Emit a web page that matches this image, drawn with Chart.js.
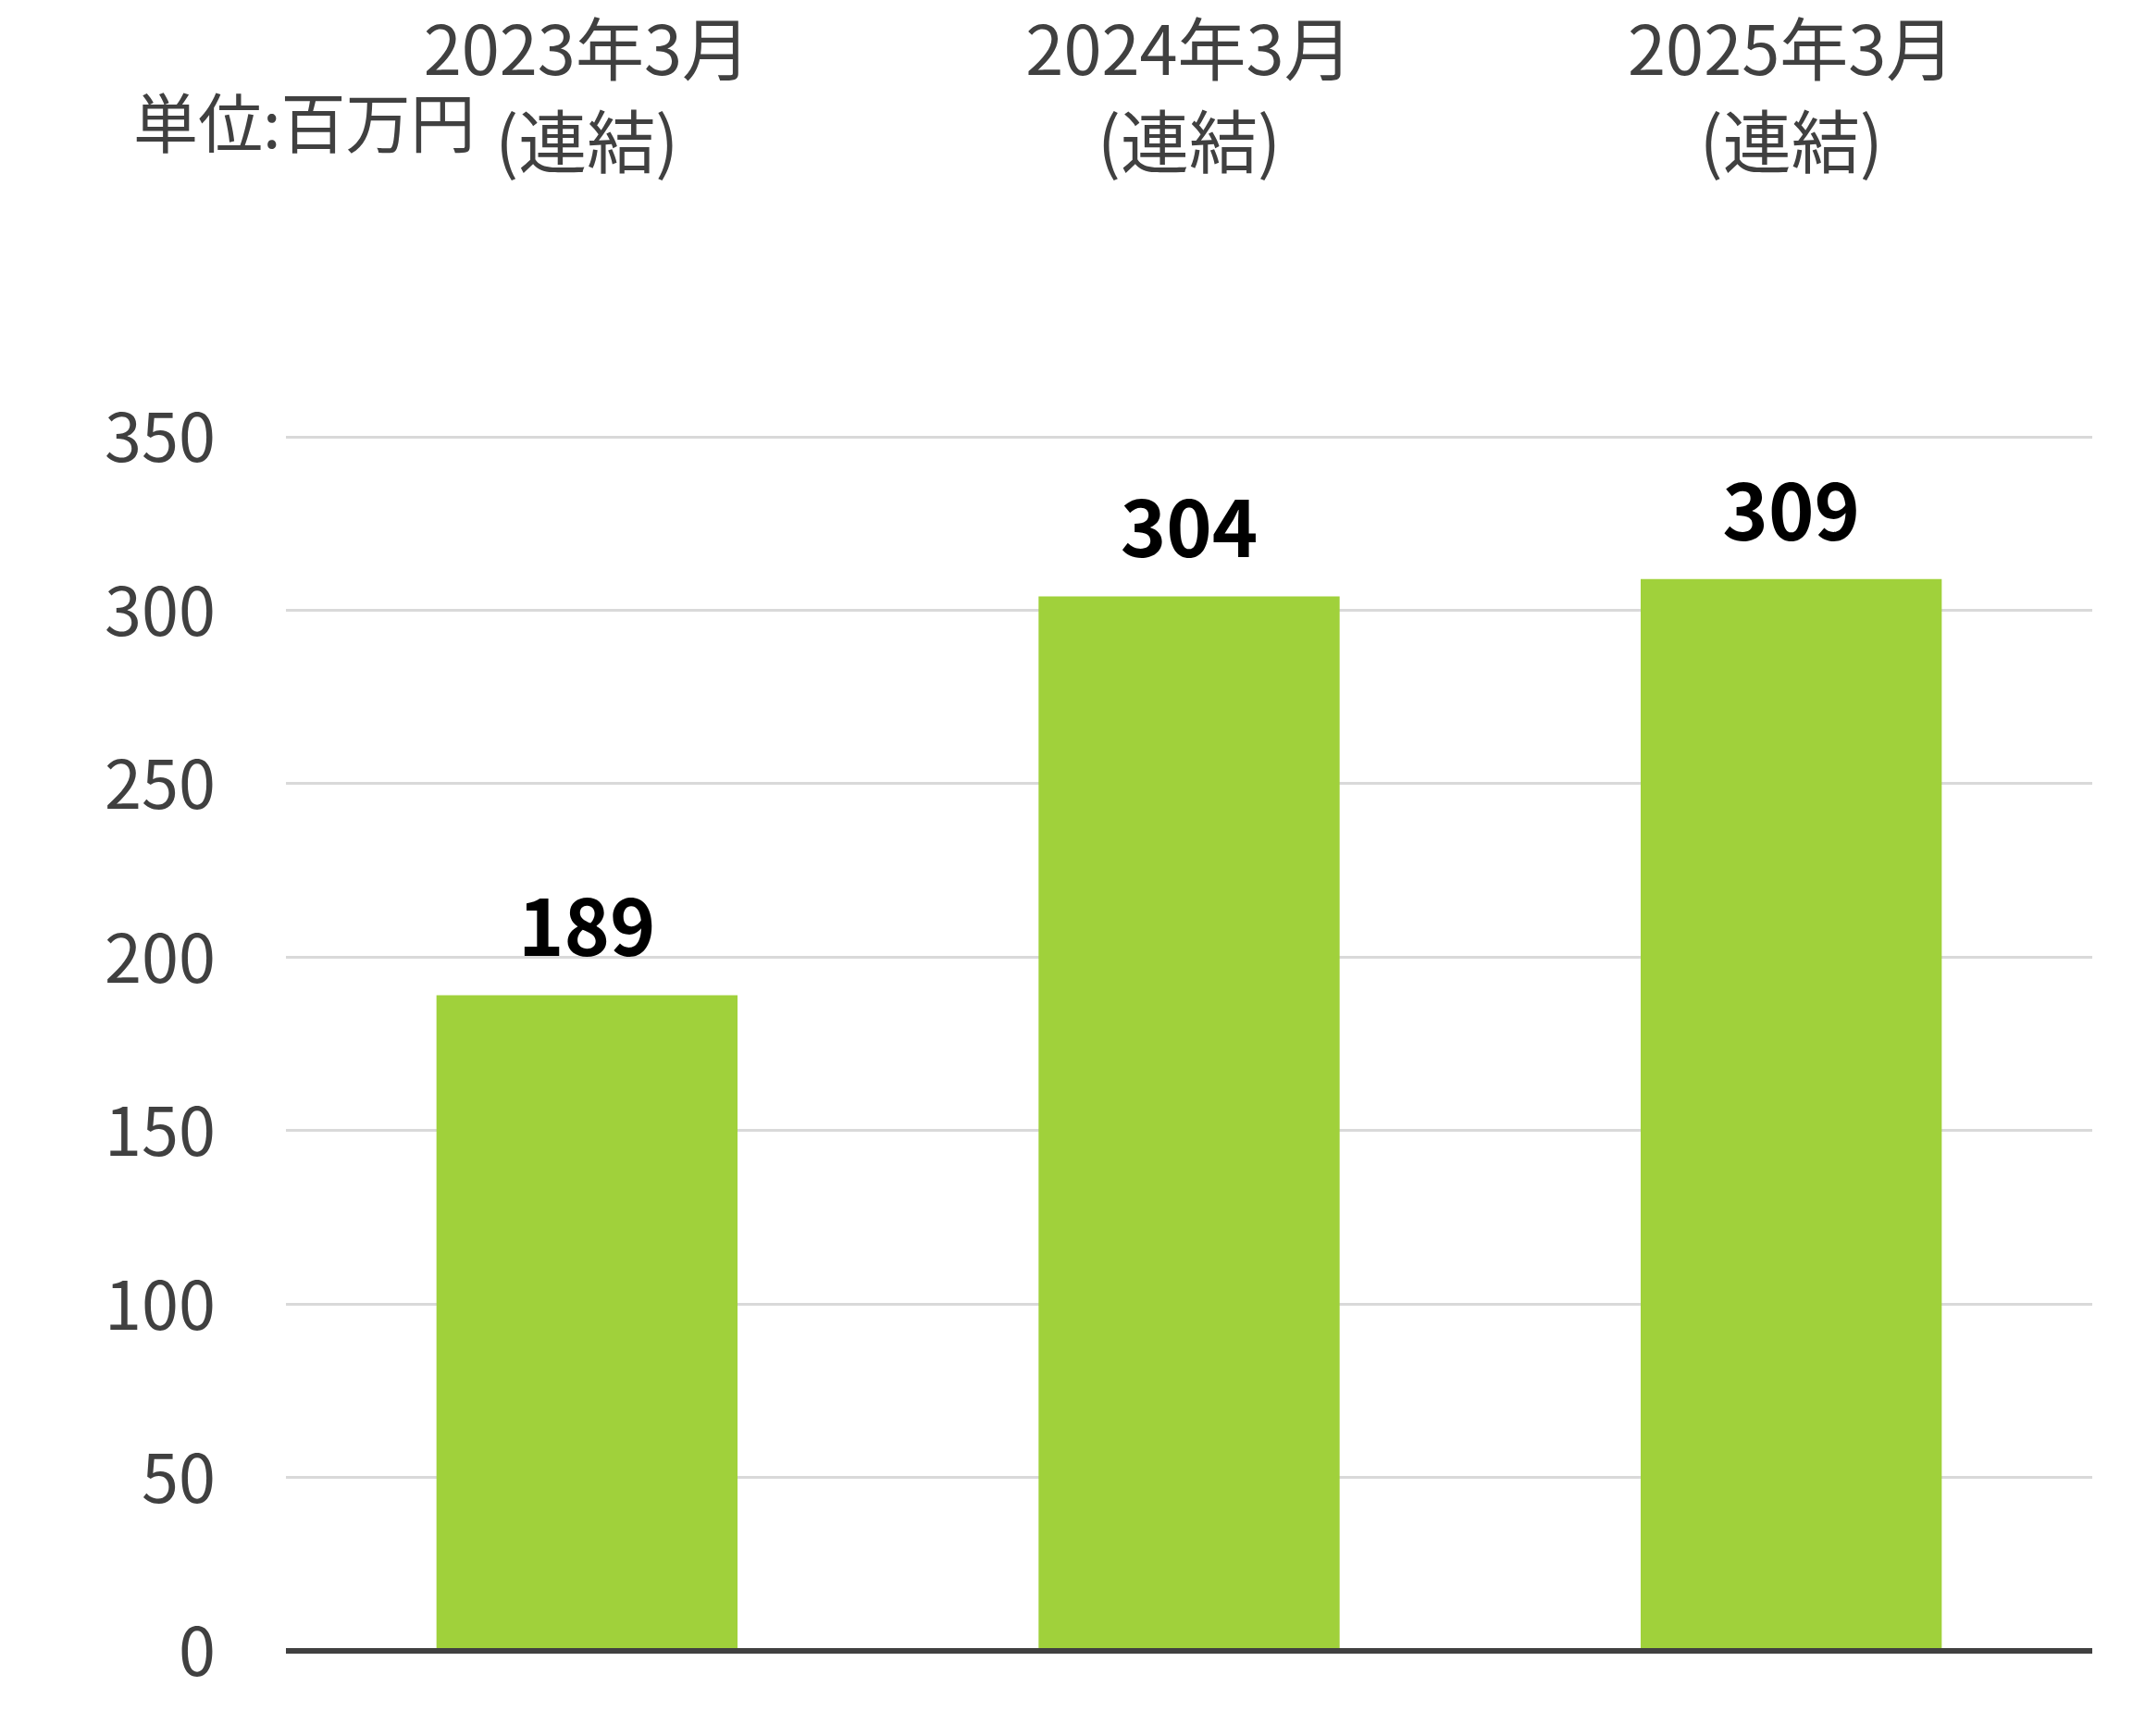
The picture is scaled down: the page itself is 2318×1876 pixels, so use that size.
<!DOCTYPE html>
<html lang="ja">
<head>
<meta charset="utf-8">
<title>連結</title>
<script src="https://cdn.jsdelivr.net/npm/chart.js@4.4.1/dist/chart.umd.min.js"></script>
<style>
  html, body { margin: 0; padding: 0; background: #ffffff; overflow: hidden; }
  #wrap { width: 2318px; height: 1876px; position: relative; }
</style>
</head>
<body>
<div id="wrap"><canvas id="myChart"></canvas></div>
<script>
const categories = [['2023年3月', '(連結)'], ['2024年3月', '(連結)'], ['2025年3月', '(連結)']];
const values = [189, 304, 309];
const yTicks = [0, 50, 100, 150, 200, 250, 300, 350];
const unitLabel = '単位:百万円';

const FONT = '"Noto Sans CJK JP", "Noto Sans", sans-serif';
const GREY = '#404040';

// values above each bar
const barLabels = {
    id: 'barLabels',
    afterDatasetsDraw(chart) {
        const ctx = chart.ctx;
        const meta = chart.getDatasetMeta(0);
        ctx.save();
        ctx.font = 'bold 84px ' + FONT;
        ctx.fillStyle = '#000000';
        ctx.textAlign = 'center';
        ctx.textBaseline = 'middle';
        meta.data.forEach((bar, i) => {
            ctx.fillText(String(values[i]), bar.x, bar.y - 74);
        });
        ctx.restore();
    }
};

// unit note at top left
const unitNote = {
    id: 'unitNote',
    afterDraw(chart) {
        const ctx = chart.ctx;
        ctx.save();
        ctx.font = '70px ' + FONT;
        ctx.fillStyle = GREY;
        ctx.textAlign = 'left';
        ctx.textBaseline = 'middle';
        ctx.fillText(unitLabel, 144, 133);
        ctx.restore();
    }
};

const ctx = document.getElementById('myChart').getContext('2d');

new Chart(ctx, {
    type: 'bar',
    data: {
        labels: categories,
        datasets: [
            {
                data: values,
                backgroundColor: '#A0D13B',
                borderWidth: 0,
                categoryPercentage: 0.5,
                barPercentage: 1.0,
            },
        ],
    },
    options: {
        responsive: true,
        maintainAspectRatio: false,
        animation: false,
        devicePixelRatio: 1,
        layout: {
            padding: { left: 0, right: 57, top: 0, bottom: 92 },
        },
        plugins: {
            legend: { display: false },
            tooltip: { enabled: false },
        },
        scales: {
            x: {
                position: 'top',
                grid: { display: false, drawTicks: false },
                border: { display: false },
                ticks: {
                    color: GREY,
                    padding: 269,
                    maxRotation: 0,
                    font: { family: FONT, size: 74, lineHeight: '100px' },
                },
                afterFit(scale) {
                    scale.height = 472;
                    scale.paddingLeft = 0;
                    scale.paddingRight = 0;
                },
            },
            y: {
                min: 0,
                max: 350,
                afterBuildTicks(scale) {
                    scale.ticks = yTicks.map(v => ({ value: v }));
                },
                grid: {
                    drawTicks: false,
                    color: c => (c.tick && c.tick.value === 0 ? GREY : '#d9d9d9'),
                    lineWidth: c => (c.tick && c.tick.value === 0 ? 6 : 3),
                },
                border: { display: false },
                ticks: {
                    color: GREY,
                    padding: 76,
                    font: { family: FONT, size: 72 },
                },
                afterFit(scale) {
                    scale.width = 309;
                    scale.paddingTop = 0;
                    scale.paddingBottom = 0;
                },
            },
        },
    },
    plugins: [barLabels, unitNote],
});
</script>
</body>
</html>
